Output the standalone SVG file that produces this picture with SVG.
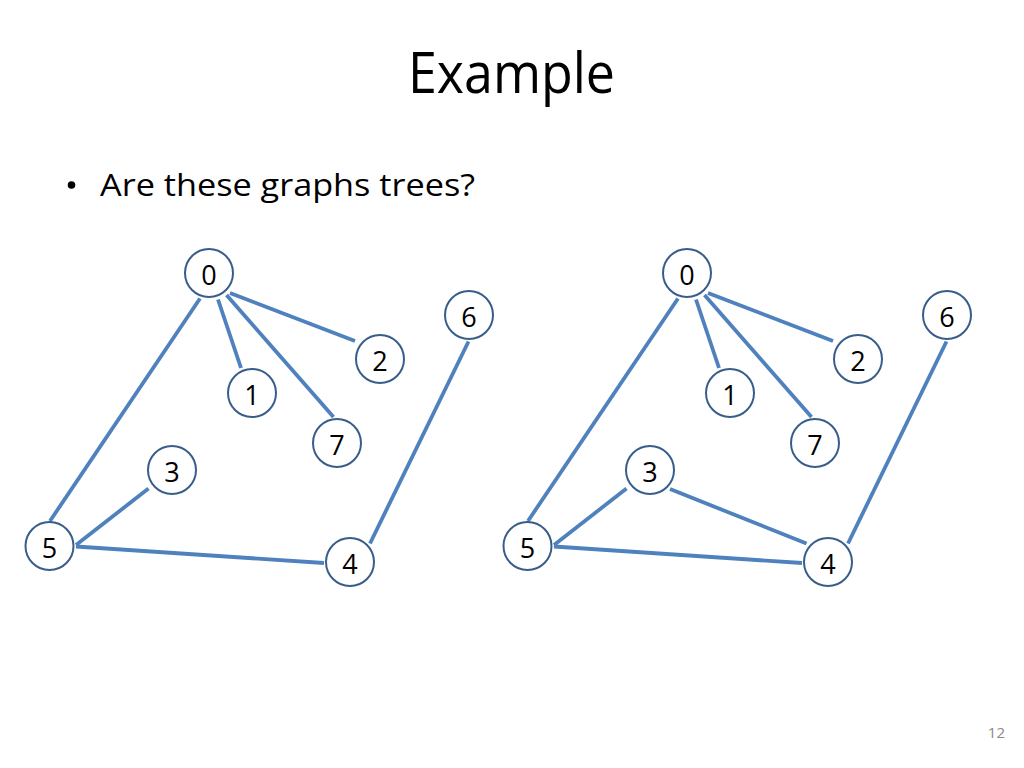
<svg xmlns="http://www.w3.org/2000/svg" width="1024" height="768" viewBox="0 0 1024 768">
<defs>
<style>
.bg{fill:#ffffff}
.title{font-family:"Open Sans","Liberation Sans",sans-serif;font-size:56px;fill:#000000}
.body{font-family:"Open Sans","Liberation Sans",sans-serif;font-size:31px;fill:#000000}
.pg{font-family:"Open Sans","Liberation Sans",sans-serif;font-size:15px;fill:#8a8a8a}
.edge{stroke:#4F81BD;stroke-width:3.8;fill:none;stroke-linecap:butt}
.node circle{fill:#ffffff;stroke:#385D8A;stroke-width:2}
.node text{font-family:"Open Sans","Liberation Sans",sans-serif;font-size:27px;fill:#000000;text-anchor:middle}
</style>
</defs>
<rect class="bg" x="0" y="0" width="1024" height="768"/>
<text class="title" x="408" y="93" textLength="207" lengthAdjust="spacingAndGlyphs">Example</text>
<circle cx="71.5" cy="185" r="3.8" fill="#000000"/>
<text class="body" x="100" y="196" textLength="375" lengthAdjust="spacingAndGlyphs">Are these graphs trees?</text>
<text class="pg" x="1005" y="738" text-anchor="end">12</text>

<g id="connectors">
<!-- left graph -->
<line class="edge" x1="200" y1="298.5" x2="50" y2="521"/>
<line class="edge" x1="218" y1="299.5" x2="241" y2="368"/>
<line class="edge" x1="226.5" y1="295" x2="333.5" y2="417"/>
<line class="edge" x1="230" y1="293" x2="355" y2="341"/>
<line class="edge" x1="468.5" y1="341.5" x2="370" y2="543.5"/>
<line class="edge" x1="148.5" y1="488.5" x2="76" y2="545"/>
<line class="edge" x1="76" y1="546.5" x2="324" y2="563"/>
<!-- right graph -->
<line class="edge" x1="678" y1="298.5" x2="528" y2="521"/>
<line class="edge" x1="696" y1="299.5" x2="719" y2="368"/>
<line class="edge" x1="704.5" y1="295" x2="811.5" y2="417"/>
<line class="edge" x1="708" y1="293" x2="833" y2="341"/>
<line class="edge" x1="946.5" y1="341.5" x2="848" y2="543.5"/>
<line class="edge" x1="626.5" y1="488.5" x2="554" y2="545"/>
<line class="edge" x1="670" y1="489" x2="806.5" y2="543.5"/>
<line class="edge" x1="554" y1="546.5" x2="802" y2="563"/>
</g>

<g id="L0" class="node"><circle cx="209" cy="273" r="24"/><text x="209" y="285">0</text></g>
<g id="L1" class="node"><circle cx="252" cy="393" r="24"/><text x="252" y="405">1</text></g>
<g id="L2" class="node"><circle cx="380" cy="359" r="24"/><text x="380" y="371">2</text></g>
<g id="L3" class="node"><circle cx="172" cy="470" r="24"/><text x="172" y="482">3</text></g>
<g id="L4" class="node"><circle cx="350" cy="562" r="24"/><text x="350" y="574">4</text></g>
<g id="L5" class="node"><circle cx="49.5" cy="546" r="24"/><text x="49.5" y="558">5</text></g>
<g id="L6" class="node"><circle cx="469" cy="315" r="24"/><text x="469" y="327">6</text></g>
<g id="L7" class="node"><circle cx="337" cy="443" r="24"/><text x="337" y="455">7</text></g>

<g id="R0" class="node"><circle cx="687" cy="273" r="24"/><text x="687" y="285">0</text></g>
<g id="R1" class="node"><circle cx="730" cy="393" r="24"/><text x="730" y="405">1</text></g>
<g id="R2" class="node"><circle cx="858" cy="359" r="24"/><text x="858" y="371">2</text></g>
<g id="R3" class="node"><circle cx="650" cy="470" r="24"/><text x="650" y="482">3</text></g>
<g id="R4" class="node"><circle cx="828" cy="562" r="24"/><text x="828" y="574">4</text></g>
<g id="R5" class="node"><circle cx="527.5" cy="546" r="24"/><text x="527.5" y="558">5</text></g>
<g id="R6" class="node"><circle cx="947" cy="315" r="24"/><text x="947" y="327">6</text></g>
<g id="R7" class="node"><circle cx="815" cy="443" r="24"/><text x="815" y="455">7</text></g>
</svg>
